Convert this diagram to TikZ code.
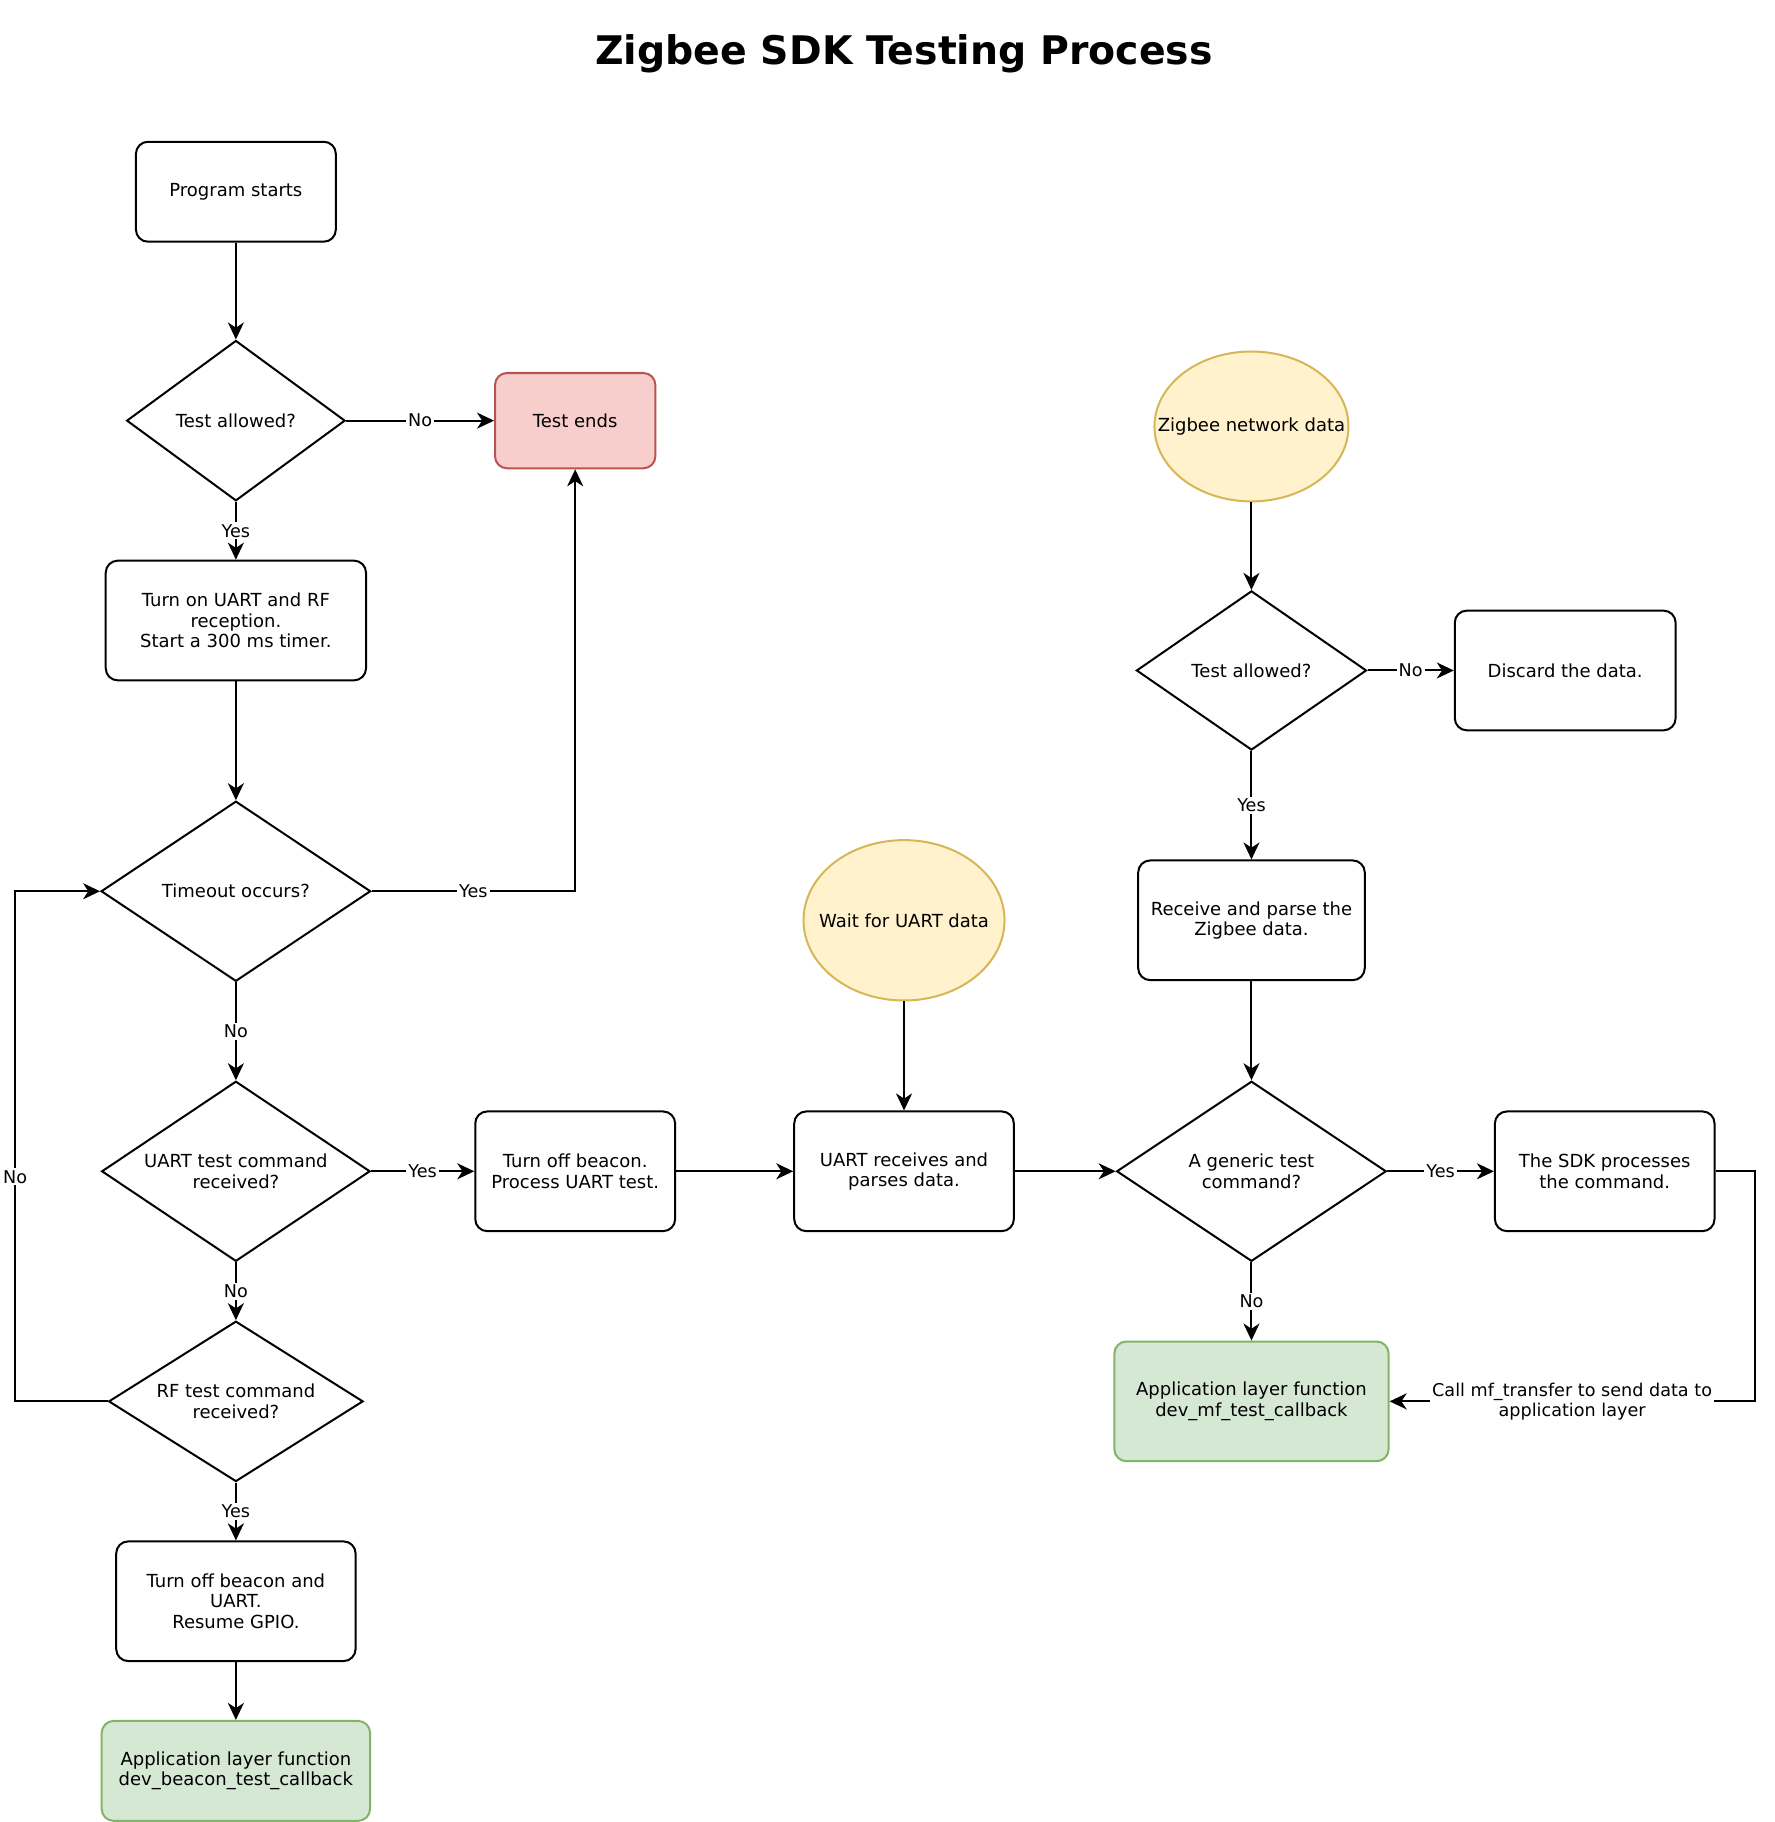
\documentclass[tikz,border=0pt]{standalone}
\usepackage{fontspec}
\setmainfont{DejaVu Sans}
\usepackage{tikz}
\usetikzlibrary{arrows.meta, positioning, calc, shapes.geometric}
\usepackage{xcolor}
\definecolor{endfill}{HTML}{F8CECC}
\definecolor{enddraw}{HTML}{B85450}
\definecolor{srcfill}{HTML}{FFF2CC}
\definecolor{srcdraw}{HTML}{D6B656}
\definecolor{appfill}{HTML}{D5E8D4}
\definecolor{appdraw}{HTML}{82B366}
\newcommand{\dpx}{0.5809pt}

\begin{document}
\begin{tikzpicture}[
    x=0.5809pt, y=-0.5809pt,
    every node/.style={font=\fontsize{9}{10.2}\selectfont, align=center},
    >={Stealth[length=8.5pt,width=8pt,inset=2.6pt]},
    flow/.style={->, line width=1pt},
    stepbox/.style={draw, line width=1pt, rounded corners=6pt, fill=white, inner sep=2pt},
    decision/.style={diamond, aspect=1.5, draw, line width=1pt, fill=white, inner sep=0pt},
    source/.style={ellipse, draw=srcdraw, fill=srcfill, line width=1pt},
    answer/.style={fill=white, inner sep=1pt, font=\fontsize{8.8}{10.2}\selectfont}
]
\useasboundingbox (0,0) rectangle (1527,1568);

\node[font=\bfseries\fontsize{19.7}{22}\selectfont] (title) at (778,46) {Zigbee SDK Testing Process};

% Nodes, left column
\node[stepbox, minimum width=172*\dpx, minimum height=86*\dpx] (start) at (203,165) {Program starts};
\node[decision, minimum width=188*\dpx, minimum height=138*\dpx] (test1) at (203,362) {Test allowed?};
\node[stepbox, draw=enddraw, fill=endfill, minimum width=138*\dpx, minimum height=82*\dpx] (testend) at (495,362) {Test ends};
\node[stepbox, minimum width=224*\dpx, minimum height=103*\dpx] (turnon) at (203,534) {Turn on UART and RF\\reception.\\Start a 300 ms timer.};
\node[decision, minimum width=232*\dpx, minimum height=155*\dpx] (timeout) at (203,767) {Timeout occurs?};
\node[decision, minimum width=231*\dpx, minimum height=155*\dpx] (uartcmd) at (203,1008) {UART test command\\received?};
\node[decision, minimum width=219*\dpx, minimum height=138*\dpx] (rfcmd) at (203,1206) {RF test command\\received?};
\node[stepbox, minimum width=206*\dpx, minimum height=103*\dpx] (beacon) at (203,1378) {Turn off beacon and\\UART.\\Resume GPIO.};
\node[stepbox, draw=appdraw, fill=appfill, minimum width=231*\dpx, minimum height=86*\dpx] (appbeacon) at (203,1524) {Application layer function\\dev\_beacon\_test\_callback};
\coordinate (loopL) at (13,1206);

% Nodes, middle
\node[stepbox, minimum width=172*\dpx, minimum height=103*\dpx] (procuart) at (495,1008) {Turn off beacon.\\Process UART test.};
\node[source, minimum width=173*\dpx, minimum height=138*\dpx, label={center:Wait for UART data}] (waituart) at (778,792) {};
\node[stepbox, minimum width=189*\dpx, minimum height=103*\dpx] (uartrx) at (778,1008) {UART receives and\\parses data.};

% Nodes, right column
\node[source, minimum width=167*\dpx, minimum height=129*\dpx, label={center:Zigbee network data}] (zbdata) at (1077,367) {};
\node[decision, minimum width=198*\dpx, minimum height=137*\dpx] (test2) at (1077,577) {Test allowed?};
\node[stepbox, minimum width=190*\dpx, minimum height=103*\dpx] (discard) at (1347,577) {Discard the data.};
\node[stepbox, minimum width=195*\dpx, minimum height=103*\dpx] (parse) at (1077,792) {Receive and parse the\\Zigbee data.};
\node[decision, minimum width=232*\dpx, minimum height=155*\dpx] (generic) at (1077,1008) {A generic test\\command?};
\node[stepbox, minimum width=189*\dpx, minimum height=103*\dpx] (sdk) at (1381,1008) {The SDK processes\\the command.};
\node[stepbox, draw=appdraw, fill=appfill, minimum width=236*\dpx, minimum height=103*\dpx] (appmf) at (1077,1206) {Application layer function\\dev\_mf\_test\_callback};
\coordinate (loopR) at (1510,1008);

% Left chain
\draw[flow] (start) -- (test1);
\draw[flow] (test1) -- node[answer]{No} (testend);
\draw[flow] (test1) -- node[answer]{Yes} (turnon);
\draw[flow] (turnon) -- (timeout);
\draw[flow] (timeout.east) -| node[answer, pos=0.25]{Yes} (testend.south);
\draw[flow] (timeout) -- node[answer]{No} (uartcmd);
\draw[flow] (uartcmd) -- node[answer]{Yes} (procuart);
\draw[flow] (uartcmd) -- node[answer]{No} (rfcmd);
\draw[flow] (rfcmd.west) -- (loopL) |- node[answer, pos=0.22]{No} (timeout.west);
\draw[flow] (rfcmd) -- node[answer]{Yes} (beacon);
\draw[flow] (beacon) -- (appbeacon);

% UART path
\draw[flow] (procuart) -- (uartrx);
\draw[flow] (waituart) -- (uartrx);
\draw[flow] (uartrx) -- (generic);

% Zigbee path
\draw[flow] (zbdata) -- (test2);
\draw[flow] (test2) -- node[answer]{No} (discard);
\draw[flow] (test2) -- node[answer]{Yes} (parse);
\draw[flow] (parse) -- (generic);
\draw[flow] (generic) -- node[answer]{Yes} (sdk);
\draw[flow] (generic) -- node[answer]{No} (appmf);
\draw[flow] (sdk.east) -- (loopR) |- node[answer, pos=0.75]{Call mf\_transfer to send data to\\application layer} (appmf.east);

\end{tikzpicture}
\end{document}
